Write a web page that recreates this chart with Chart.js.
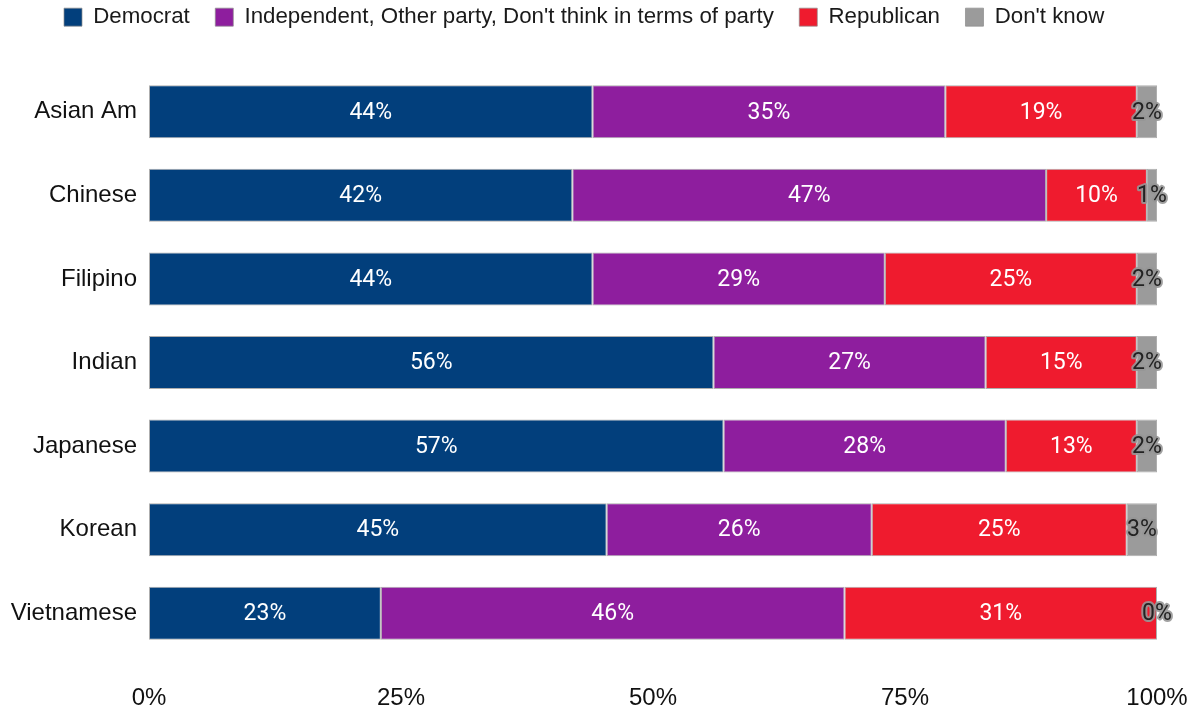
<!DOCTYPE html>
<html>
<head>
<meta charset="utf-8">
<script src="https://cdn.jsdelivr.net/npm/chart.js@4/dist/chart.umd.min.js"></script>
<style>
  html, body { margin: 0; padding: 0; background: #fff; }
  #wrap { width: 1192px; height: 711px; position: relative; }
</style>
</head>
<body>
<div id="wrap"><canvas id="party_chart"></canvas></div>
<script>
var groups = ["Asian Am", "Chinese", "Filipino", "Indian", "Japanese", "Korean", "Vietnamese"];
var democrat = [44, 42, 44, 56, 57, 45.4, 23];
var independent = [35, 47, 29, 27, 28, 26.3, 46];
var republican = [19, 10, 25, 15, 13, 25.3, 31];
var dontKnow = [2, 1, 2, 2, 2, 3, 0];
var xTicks = [0, 25, 50, 75, 100];

// numbers drawn on the bar segments
var labelPlugin = {
    id: "segmentLabels",
    afterDatasetsDraw: function (chart) {
        var ctx = chart.ctx;
        ctx.save();
        ctx.font = "23px Roboto";
        ctx.textAlign = "center";
        ctx.textBaseline = "middle";
        chart.data.datasets.forEach(function (ds, di) {
            var meta = chart.getDatasetMeta(di);
            meta.data.forEach(function (bar, i) {
                var txt = Math.round(ds.data[i]) + "%";
                var cx = (bar.x + bar.base) / 2;
                if (di === 3) {
                    ctx.lineWidth = 4;
                    ctx.lineJoin = "round";
                    ctx.strokeStyle = "rgba(150,150,150,0.9)";
                    ctx.strokeText(txt, cx, bar.y + 1);
                    ctx.fillStyle = "#222";
                } else {
                    ctx.fillStyle = "#fff";
                }
                ctx.fillText(txt, cx, bar.y + 1);
            });
        });
        ctx.restore();
    },
};

// legend sits tight at the top, chart area starts lower down
var legendPlace = {
    id: "legendPlace",
    afterInit: function (chart) {
        var lg = chart.legend;
        var origFit = lg.fit;
        lg.fit = function () {
            origFit.call(this);
            this.height = 68;
        };
    },
    afterLayout: function (chart) {
        var lg = chart.legend;
        var pad = lg.options.labels.padding;
        lg.left = 64 - pad;
        lg.top = 6 - pad;
    },
};

function initPartyChart() {
    "use strict";
    new Chart(document.getElementById("party_chart").getContext("2d"), {
        type: "bar",
        data: {
            labels: groups,
            datasets: [
                { label: "Democrat", data: democrat, backgroundColor: "rgb(2, 63, 124)" },
                { label: "Independent, Other party, Don't think in terms of party", data: independent, backgroundColor: "rgb(142, 30, 158)" },
                { label: "Republican", data: republican, backgroundColor: "rgb(239, 27, 46)" },
                { label: "Don't know", data: dontKnow, backgroundColor: "rgb(155, 155, 155)" },
            ],
        },
        options: {
            indexAxis: "y",
            responsive: true,
            maintainAspectRatio: false,
            animation: false,
            datasets: {
                bar: {
                    barPercentage: 0.634,
                    categoryPercentage: 1,
                    borderColor: "rgba(140, 140, 140, 0.7)",
                    borderWidth: 1,
                    borderSkipped: false,
                },
            },
            layout: { padding: { left: 0, right: 35, top: 2, bottom: 0 } },
            plugins: {
                legend: {
                    position: "top",
                    align: "start",
                    labels: {
                        boxWidth: 18,
                        boxHeight: 18,
                        padding: 25.5,
                        color: "#1a1a1a",
                        font: { family: "Liberation Sans", size: 22.3 },
                    },
                },
                tooltip: { enabled: false },
            },
            scales: {
                x: {
                    stacked: true,
                    min: 0,
                    max: 100,
                    grid: { display: false },
                    border: { display: false },
                    afterBuildTicks: function (scale) {
                        scale.ticks = xTicks.map(function (v) { return { value: v }; });
                    },
                    afterFit: function (scale) {
                        scale.height = 56;
                        scale.paddingLeft = 0;
                        scale.paddingRight = 0;
                    },
                    ticks: {
                        padding: 21,
                        color: "#111",
                        font: { family: "Liberation Sans", size: 24 },
                        callback: function (v) { return v + "%"; },
                    },
                },
                y: {
                    stacked: true,
                    grid: { display: false },
                    border: { display: false },
                    afterFit: function (scale) { scale.width = 149; },
                    ticks: {
                        padding: 4,
                        color: "#111",
                        font: { family: "Liberation Sans", size: 24 },
                    },
                },
            },
        },
        plugins: [labelPlugin, legendPlace],
    });
}
initPartyChart();
</script>
</body>
</html>
